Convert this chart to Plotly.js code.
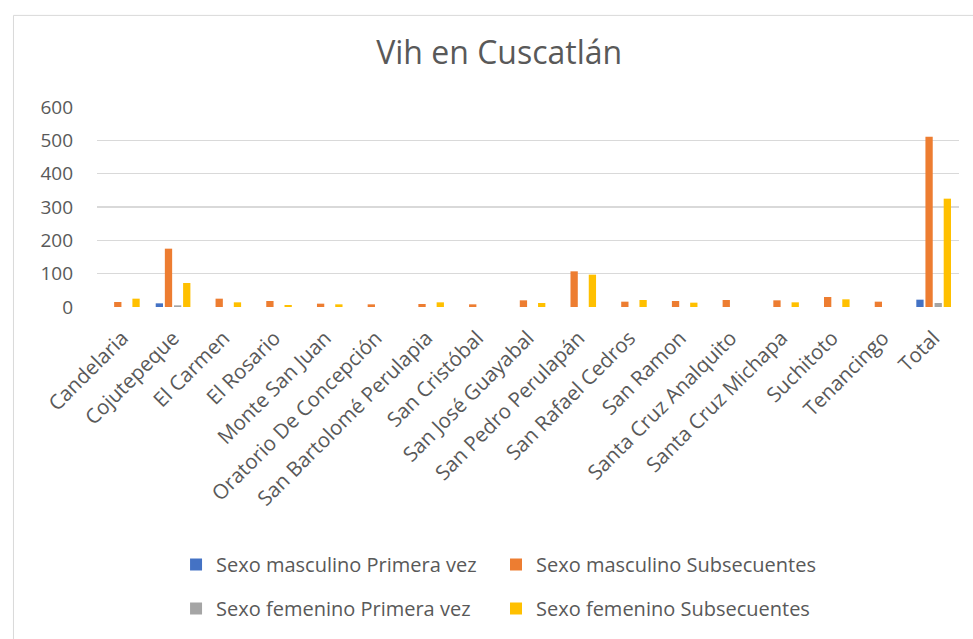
<!DOCTYPE html>
<html>
<head>
<meta charset="utf-8">
<script src="https://cdn.plot.ly/plotly-3.0.1.min.js"></script>
<style>
html,body{margin:0;padding:0;background:#fff;}
#chart{width:973px;height:639px;}
</style>
</head>
<body>
<div id="chart"></div>
<script>
const categories = ["Candelaria","Cojutepeque","El Carmen","El Rosario","Monte San Juan","Oratorio De Concepción","San Bartolomé Perulapia","San Cristóbal","San José Guayabal","San Pedro Perulapán","San Rafael Cedros","San Ramon","Santa Cruz Analquito","Santa Cruz Michapa","Suchitoto","Tenancingo","Total"];
const seriesNames = ["Sexo masculino Primera vez","Sexo masculino Subsecuentes","Sexo femenino Primera vez","Sexo femenino Subsecuentes"];
const mascPrimera = [0,11,0,0,0,0,0,0,0,0,0,0,0,0,0,0,22];
const mascSubsec  = [15,175,25,18,10,8,9,8,20,107,16,18,21,20,30,16,511];
const femPrimera  = [0,5,0,0,0,0,0,0,0,0,0,0,0,0,0,0,12];
const femSubsec   = [25,72,14,6,8,0,14,0,12,97,21,13,0,14,23,0,325];
const yTicks = [0,100,200,300,400,500,600];

const colors = ["#4472C4","#ED7D31","#A5A5A5","#FFC000"];
const values = [mascPrimera, mascSubsec, femPrimera, femSubsec];
const legendIds = ["legend","legend2","legend3","legend4"];

const font = "Open Sans, sans-serif";
const traces = values.map((v,i)=>({
  type:"bar", x:categories, y:v, name:seriesNames[i],
  marker:{color:colors[i]}, legend:legendIds[i], hoverinfo:"x+y+name"
}));

const legendFont = {family:font, size:20, color:"#595959"};
const legCols = [0.0917, 0.4629];
const legRows = [-1.19, -1.41];
function leg(col,row){
  return {orientation:"h", x:legCols[col], xanchor:"left", y:legRows[row], yanchor:"top", font:legendFont, itemwidth:30, bgcolor:"rgba(0,0,0,0)"};
}

const layout = {
  width:973, height:639,
  margin:{l:97, r:14, t:107, b:328, pad:0},
  paper_bgcolor:"#fff", plot_bgcolor:"#fff",
  font:{family:font, color:"#595959"},
  title:{text:"Vih en Cuscatlán", font:{family:font, size:32, color:"#595959"}, x:0.513, xanchor:"center", y:0.918, yanchor:"middle"},
  barmode:"group", bargap:0.28, bargroupgap:0.2,
  showlegend:true,
  legend:leg(0,0), legend2:leg(1,0), legend3:leg(0,1), legend4:leg(1,1),
  xaxis:{type:"category", tickangle:-45, tickfont:{family:font, size:20.5, color:"#595959"}, ticklabelstandoff:14, showline:false, ticks:"", showgrid:false, zeroline:false, automargin:false},
  yaxis:{range:[0,600], tickvals:yTicks, ticktext:yTicks.map(String), tickfont:{family:font, size:19, color:"#595959"}, ticklabelstandoff:23, showgrid:true, gridcolor:"#D9D9D9", gridwidth:1.3, zeroline:false, showline:false, ticks:"", automargin:false},
  shapes:[
    {type:"line", xref:"paper", yref:"paper", x0:-0.0969, x1:1.2, y0:1.458, y1:1.458, line:{color:"#D9D9D9", width:1}},
    {type:"line", xref:"paper", yref:"paper", x0:-0.0969, x1:-0.0969, y0:1.458, y1:-2, line:{color:"#D9D9D9", width:1}}
  ]
};
Plotly.newPlot("chart", traces, layout, {displayModeBar:false, staticPlot:true});
</script>
</body>
</html>
